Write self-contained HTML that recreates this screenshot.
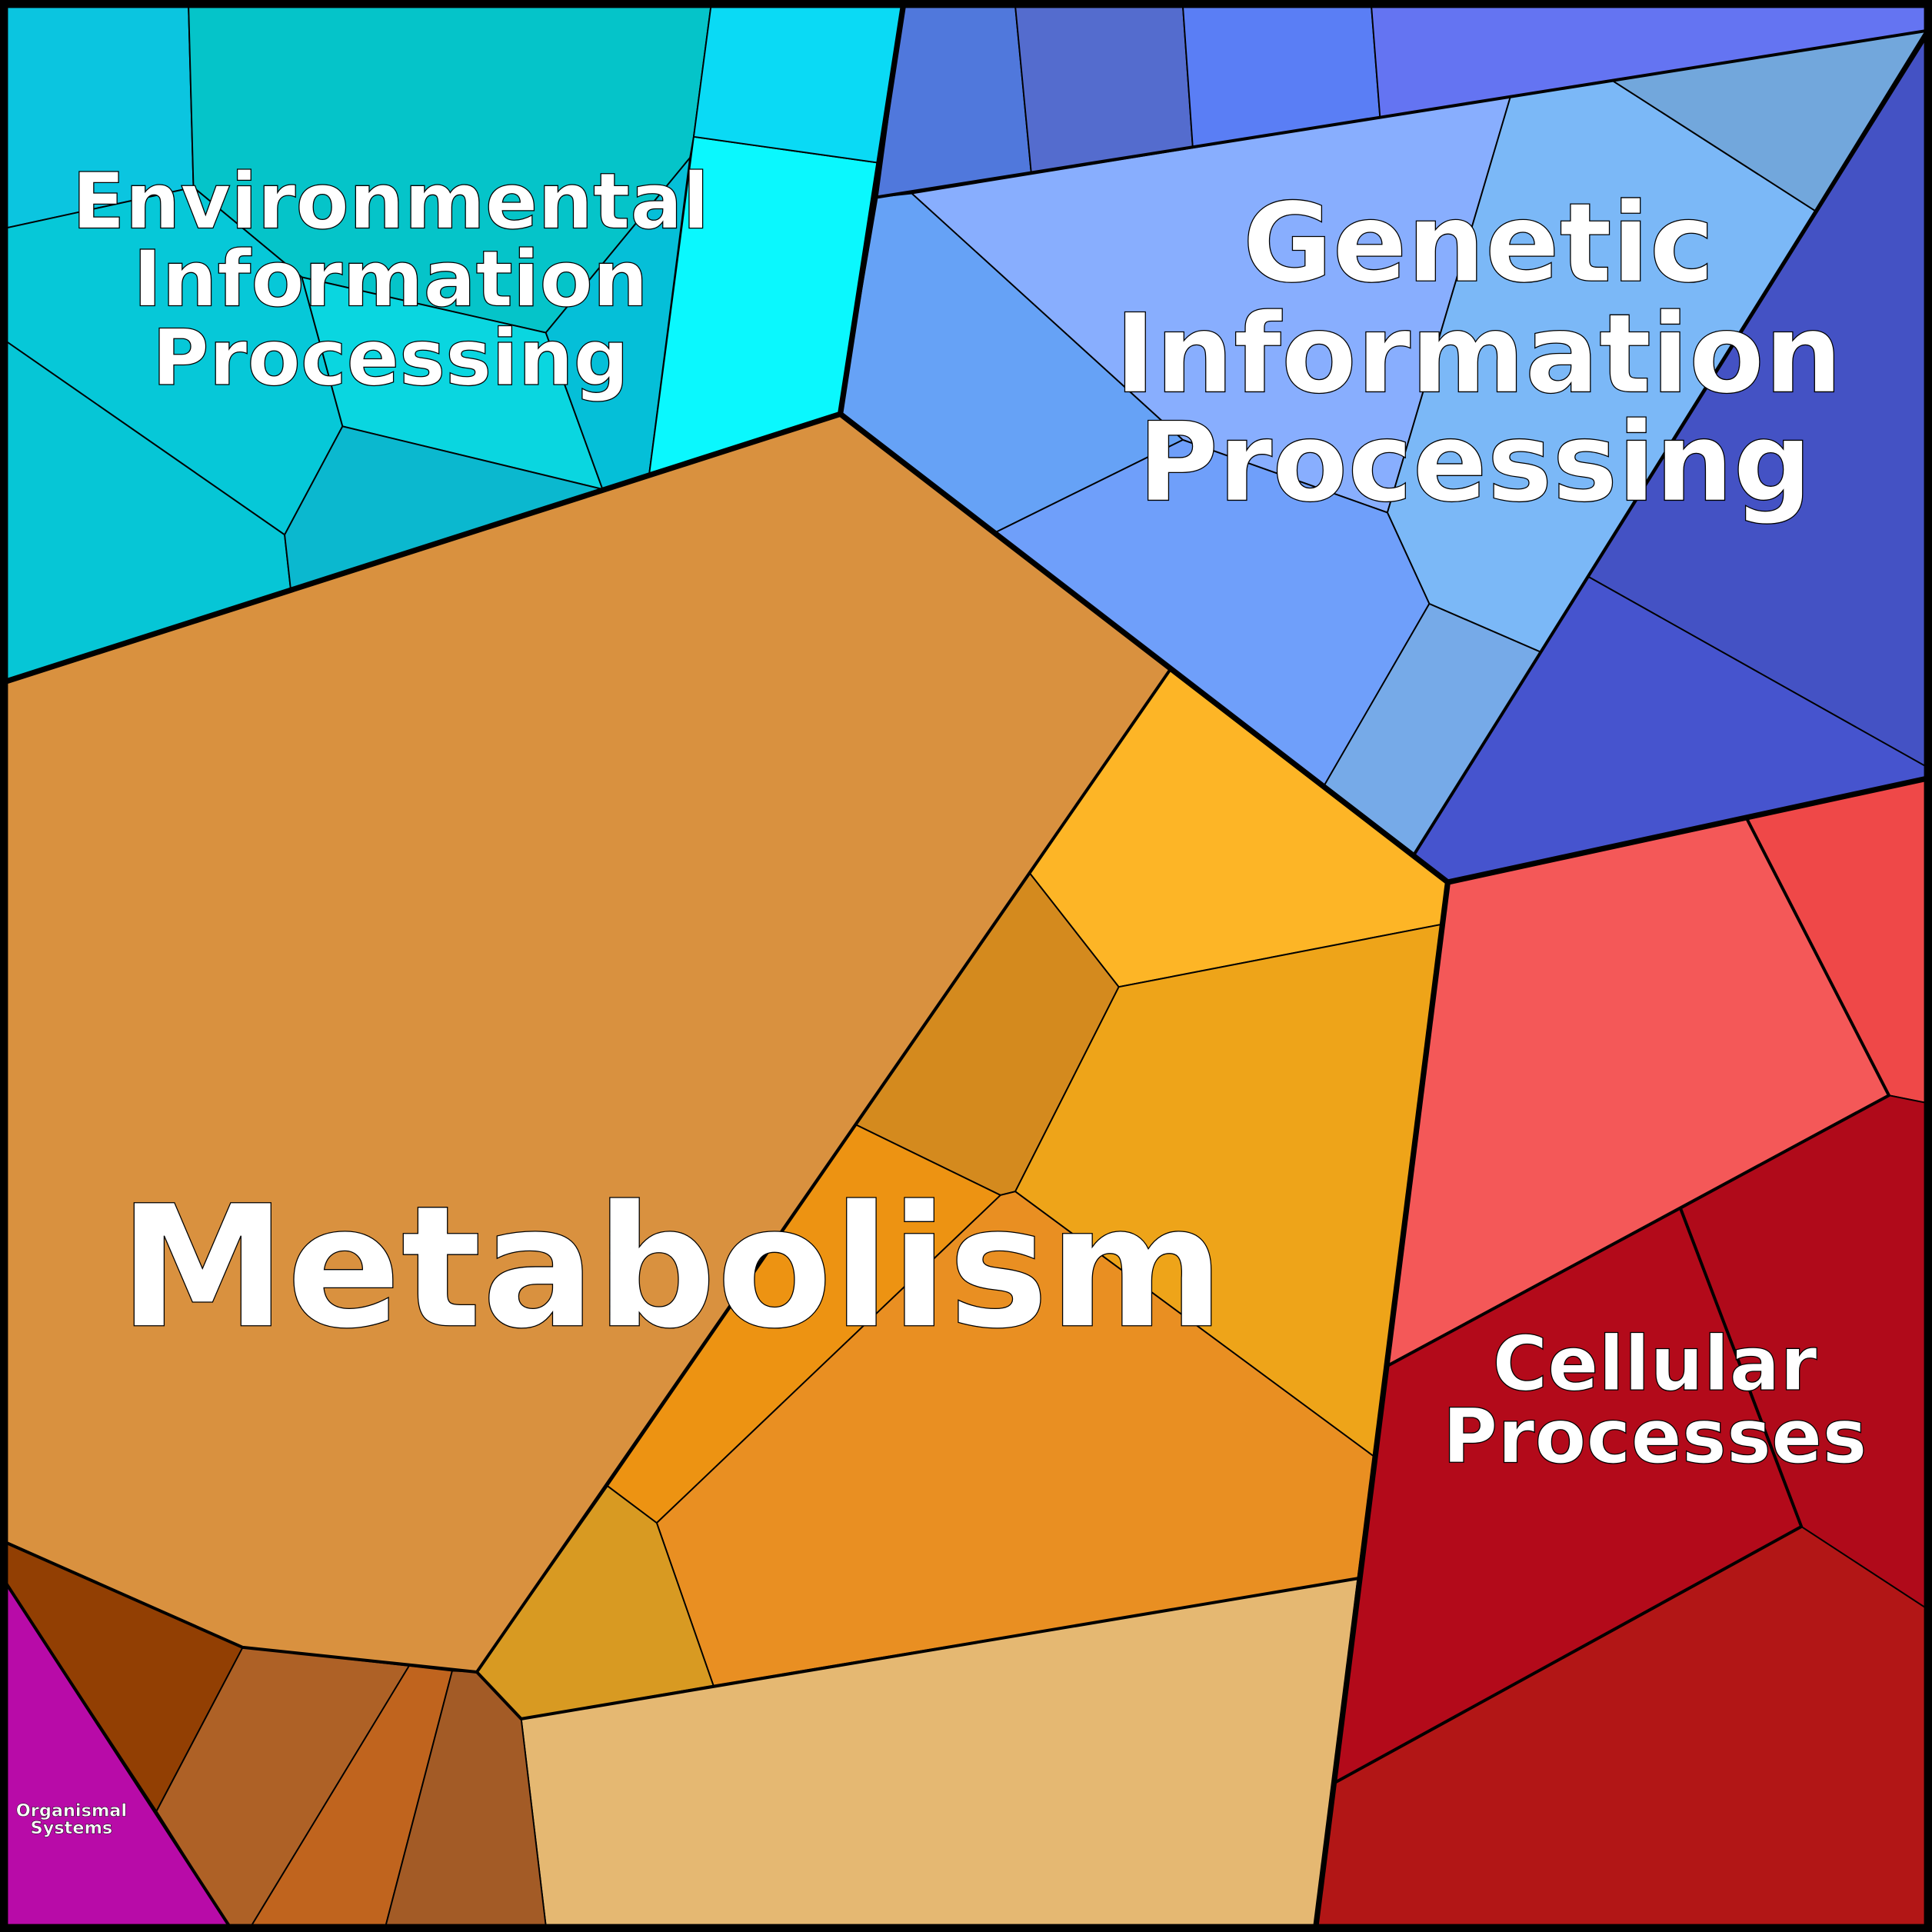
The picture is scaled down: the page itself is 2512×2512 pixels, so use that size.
<!DOCTYPE html>
<html><head><meta charset="utf-8"><style>html,body{margin:0;padding:0;background:#000}svg{display:block}</style></head><body>
<svg xmlns="http://www.w3.org/2000/svg" width="2512" height="2512" viewBox="0 0 1568 1568">
<rect x="0" y="0" width="1568" height="1568" fill="#000"/>
<g stroke="#000" stroke-width="1.2" stroke-linejoin="round">
<polygon fill="#0bc5e0" points="5,5 153,5 157,152 5,185"/>
<polygon fill="#05c4c9" points="153,5 577,5 563,111 560,128 443,270 245,225 157,152"/>
<polygon fill="#06c8d8" points="157,152 245,225 278,346 231,434 5,277 5,185"/>
<polygon fill="#0ad6e0" points="245,225 443,270 489,397 278,346"/>
<polygon fill="#05bfd8" points="443,270 560,128 527,384 489,397"/>
<polygon fill="#06c6d6" points="5,277 231,434 236,479 5,553"/>
<polygon fill="#0bb8cf" points="278,346 489,397 236,479 231,434"/>
<polygon fill="#0af8fe" points="563,111 712,132 682,336 527,384"/>
<polygon fill="#0adaf5" points="577,5 733,5 712,132 563,111"/>
<polygon fill="#5078dc" points="733,5 824,5 837,141 712,160"/>
<polygon fill="#546cce" points="824,5 960,5 968,119 837,141"/>
<polygon fill="#5a7ef5" points="960,5 1113,5 1120,95 968,119"/>
<polygon fill="#6474f2" points="1113,5 1563,5 1563,25 1120,95"/>
<polygon fill="#88aefe" points="740,157 1226,78 1126,416 960,357"/>
<polygon fill="#7bb8f7" points="1226,78 1308,65 1473,171 1250,529 1160,490 1126,416"/>
<polygon fill="#72a7dc" points="1308,65 1563,25 1473,171"/>
<polygon fill="#66a2f6" points="712,160 740,157 960,357 808,432 682,336"/>
<polygon fill="#6f9ffa" points="808,432 960,357 1126,416 1160,490 1075,637"/>
<polygon fill="#76aae8" points="1160,490 1250,529 1148,693 1075,637"/>
<polygon fill="#4452c4" points="1563,30 1563,622 1289,468"/>
<polygon fill="#4654ce" points="1289,468 1563,622 1563,632 1175,716 1148,693"/>
<polygon fill="#d9913f" points="5,553 682,336 950,543 387,1357 197,1337 5,1252"/>
<polygon fill="#fdb526" points="950,543 1175,716 1171,750 908,801 836,709"/>
<polygon fill="#d48a1e" points="836,709 908,801 824,967 812,970 695,913"/>
<polygon fill="#eea419" points="908,801 1171,750 1115,1182 824,967"/>
<polygon fill="#ed9312" points="695,913 812,970 533,1236 493,1206"/>
<polygon fill="#e98f22" points="812,970 824,967 1115,1182 1102,1281 579,1368 533,1236"/>
<polygon fill="#d89a22" points="493,1206 533,1236 579,1368 423,1395 387,1357"/>
<polygon fill="#e5b872" points="423,1395 1102,1281 1068,1563 443,1563"/>
<polygon fill="#923f03" points="5,1252 197,1337 127,1470 5,1285"/>
<polygon fill="#ae6126" points="197,1337 332,1352 204,1563 186,1563 127,1470"/>
<polygon fill="#c0641e" points="332,1352 367,1356 313,1563 204,1563"/>
<polygon fill="#a35b26" points="367,1356 387,1357 423,1395 443,1563 313,1563"/>
<polygon fill="#b80ba8" points="5,1285 186,1563 5,1563"/>
<polygon fill="#f45858" points="1175,716 1418,665 1533,889 1127,1108"/>
<polygon fill="#ef4848" points="1418,665 1563,632 1563,895 1533,889"/>
<polygon fill="#b30a1a" points="1127,1108 1364,981 1462,1239 1083,1447"/>
<polygon fill="#b00a1a" points="1364,981 1533,889 1563,895 1563,1305 1462,1239"/>
<polygon fill="#b21616" points="1083,1447 1462,1239 1563,1305 1563,1563 1068,1563"/>
</g>
<g fill="none" stroke="#000" stroke-linejoin="round">
<polyline stroke-width="2.5" points="712,160 1563,25"/>
<polyline stroke-width="2.5" points="1563,30 1148,693"/>
<polyline stroke-width="2.5" points="950,543 387,1357 423,1395 1102,1281"/>
<polyline stroke-width="2.5" points="1418,665 1533,889 1127,1108"/>
<polyline stroke-width="2.5" points="5,1252 197,1337 387,1357"/>
<polyline stroke-width="2.5" points="5,1285 186,1563"/>
<polyline stroke-width="2.5" points="1364,981 1462,1239 1083,1447"/>
<polyline stroke-width="4.5" points="5,553 682,336 733,5"/>
<polyline stroke-width="4.5" points="682,336 1175,716 1563,632"/>
<polyline stroke-width="4.5" points="1175,716 1068,1563"/>
<rect x="3" y="3" width="1562" height="1562" stroke-width="7"/>
</g>
<g font-family="'DejaVu Sans','Liberation Sans',sans-serif" font-weight="bold" fill="#fff" stroke="#000" stroke-width="0.8" text-anchor="middle">
<text x="317" y="185" font-size="63">Environmental</text>
<text x="317" y="248" font-size="63">Information</text>
<text x="317" y="312" font-size="63">Processing</text>
<text x="1200" y="228" font-size="89">Genetic</text>
<text x="1200" y="318" font-size="89">Information</text>
<text x="1197" y="406" font-size="89">Processing</text>
<text x="545" y="1076" font-size="137">Metabolism</text>
<text x="1343" y="1128" font-size="61">Cellular</text>
<text x="1343" y="1187" font-size="61">Processes</text>
<text x="58" y="1474" font-size="14" stroke-width="0.3">Organismal</text>
<text x="58" y="1488" font-size="14" stroke-width="0.3">Systems</text>
</g>
</svg>
</body></html>
